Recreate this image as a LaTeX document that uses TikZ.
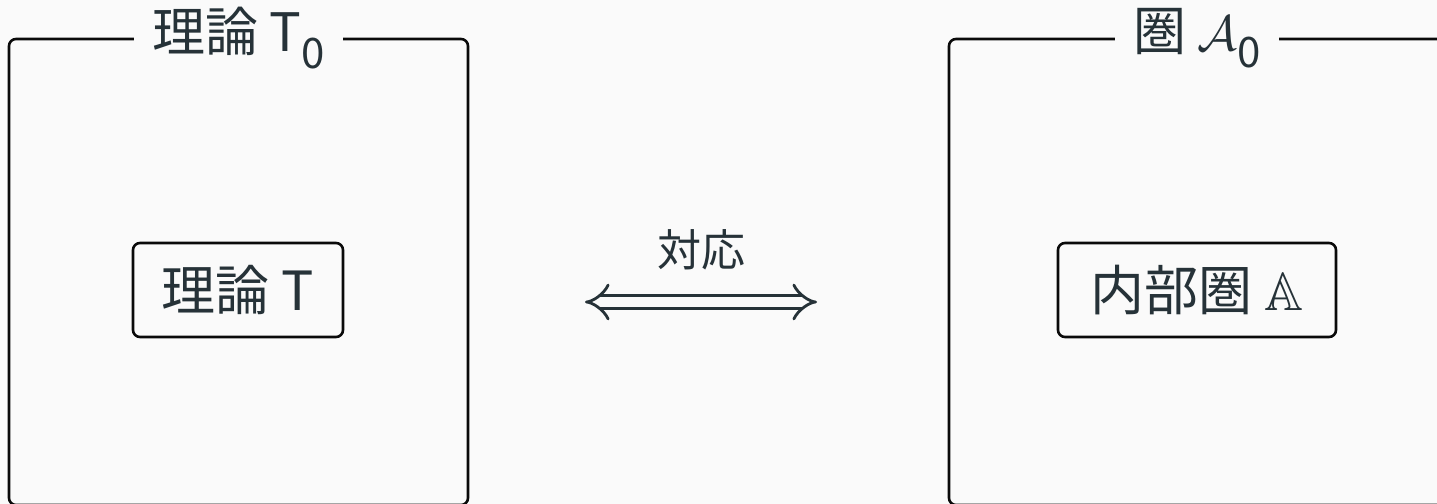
\documentclass[tikz,border=0pt]{standalone}
\usepackage{fontspec}
\usepackage{amssymb}
\setmainfont{Noto Sans CJK JP}
\usetikzlibrary{arrows.meta}
\definecolor{bg}{HTML}{FAFAFA}
\definecolor{ink}{HTML}{263238}
\definecolor{frameline}{HTML}{0A0A0A}
\newcommand{\subz}{\raisebox{-0.32em}{\fontsize{21pt}{21pt}\selectfont 0}}
\tikzset{
  frame/.style={draw=frameline, line width=1.3pt, rounded corners=3.5pt, minimum height=233pt},
  frametitle/.style={fill=bg, text=ink, inner xsep=9pt, inner ysep=2pt, font=\fontsize{26.5pt}{30pt}\selectfont},
  inner/.style={draw=frameline, line width=1.3pt, rounded corners=3.5pt, minimum height=47pt, text=ink, font=\fontsize{27pt}{30pt}\selectfont},
  corr/.style={draw=ink, double=bg, double distance=5pt, line width=1.4pt, {Implies[length=9pt,width=24pt]}-{Implies[length=9pt,width=24pt]}},
  corrlabel/.style={text=ink, font=\fontsize{22pt}{24pt}\selectfont}
}
\begin{document}
\begin{tikzpicture}[x=0.5pt,y=-0.5pt]
\fill[bg] (0,0) rectangle (1437,504);
\useasboundingbox (0,0) rectangle (1437,504);
\clip (0,0) rectangle (1437,504);
\node[frame, minimum width=229.5pt] (L) at (238.5,272) {};
\node[frame, minimum width=248pt] (R) at (1197,272) {};
\node[frametitle] (Lt) at (L.north) {理論 T\subz};
\node[frametitle] (Rt) at (R.north) {圏 $\mathcal{A}$\subz};
\node[inner, minimum width=105pt] (T) at (238,290) {理論 T};
\node[inner, minimum width=139pt] (A) at (1197,290) {内部圏 $\mathbb{A}$};
\coordinate (aL) at (585,302);
\coordinate (aR) at (817,302);
\draw[corr] (aL) -- (aR);
\node[corrlabel] (lab) at (701,250) {対応};
\end{tikzpicture}
\end{document}
